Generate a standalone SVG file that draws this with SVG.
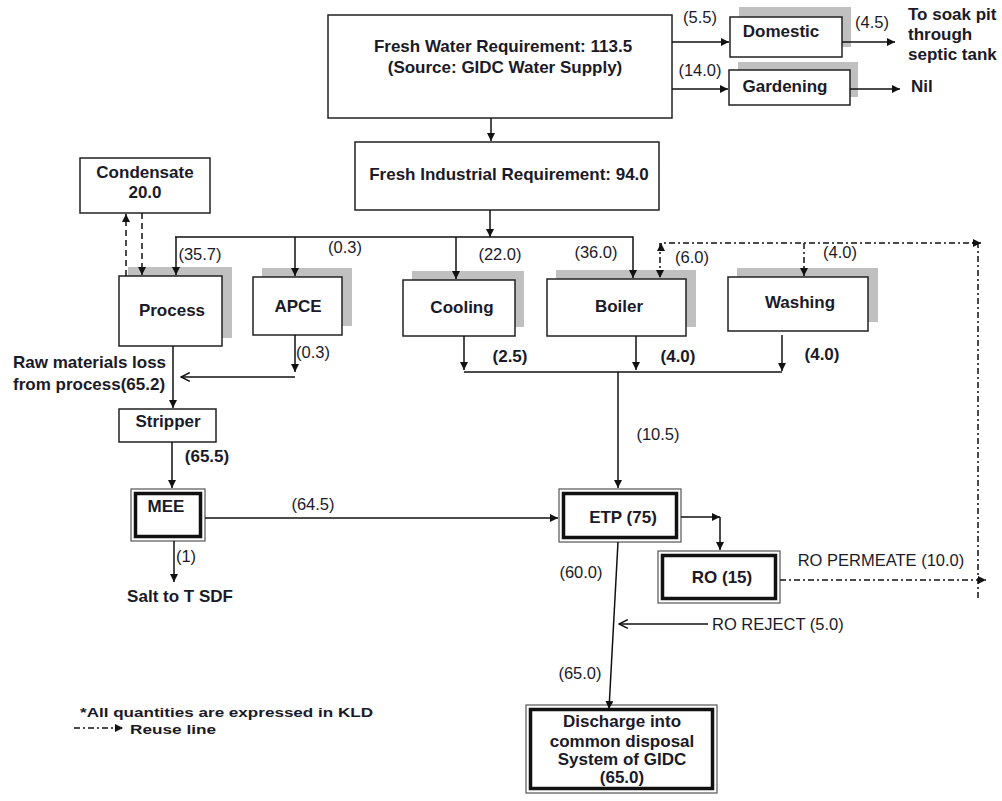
<svg xmlns="http://www.w3.org/2000/svg" width="1002" height="801" viewBox="0 0 1002 801">
<style>
  .box{fill:#fff;stroke:#222;stroke-width:1.5}
  .sh{fill:#c0c0c0}
  .dbo{fill:#fff;stroke:#555;stroke-width:1.2}
  .dbi{fill:none;stroke:#111;stroke-width:3.5}
  .ln{fill:none;stroke:#111;stroke-width:1.5}
  .dash{stroke-dasharray:6,4}
  .reuse{stroke-dasharray:6,3,2,3}
  text{font-family:"Liberation Sans",Arial,sans-serif;font-size:17px;font-weight:bold;fill:#1a1a28}
  .q{font-weight:normal;font-size:16.5px}
  .m{text-anchor:middle}
  .lg{font-size:13.5px}
</style>
<defs>
  <marker id="arr" viewBox="0 0 10 10" refX="10" refY="5" markerWidth="8" markerHeight="8" markerUnits="userSpaceOnUse" orient="auto">
    <path d="M0,0 L10,5 L0,10 z" fill="#111"/>
  </marker>
  <marker id="open" viewBox="0 0 10 10" refX="9" refY="5" markerWidth="11" markerHeight="11" markerUnits="userSpaceOnUse" orient="auto">
    <path d="M1,1 L9,5 L1,9" fill="none" stroke="#111" stroke-width="1.4"/>
  </marker>
</defs>

<g id="fresh-water">
  <rect class="box" x="328" y="15" width="344" height="103"/>
  <text class="m" x="503" y="52">Fresh Water Requirement: 113.5</text>
  <text class="m" x="505" y="73">(Source: GIDC Water Supply)</text>
</g>
<g id="fresh-industrial">
  <rect class="box" x="355" y="142" width="304" height="68"/>
  <text class="m" x="509" y="180">Fresh Industrial Requirement: 94.0</text>
</g>
<g id="domestic">
  <rect class="sh" x="739" y="7" width="112" height="40"/>
  <rect class="box" x="730" y="17" width="112" height="40"/>
  <text class="m" x="781" y="37">Domestic</text>
</g>
<g id="gardening">
  <rect class="sh" x="738" y="62" width="120" height="35"/>
  <rect class="box" x="729" y="70" width="121" height="35"/>
  <text class="m" x="785" y="92">Gardening</text>
</g>
<g id="condensate">
  <rect class="box" x="80" y="158" width="130" height="55"/>
  <text class="m" x="145" y="178">Condensate</text>
  <text class="m" x="145" y="198">20.0</text>
</g>
<g id="process">
  <rect class="sh" x="128" y="267" width="104" height="71"/>
  <rect class="box" x="119" y="276" width="103" height="70"/>
  <text class="m" x="172" y="316">Process</text>
</g>
<g id="apce">
  <rect class="sh" x="262" y="268" width="90" height="58"/>
  <rect class="box" x="253" y="277" width="89" height="58"/>
  <text class="m" x="298" y="312">APCE</text>
</g>
<g id="cooling">
  <rect class="sh" x="412" y="271" width="112" height="56"/>
  <rect class="box" x="403" y="280" width="112" height="56"/>
  <text class="m" x="462" y="313">Cooling</text>
</g>
<g id="boiler">
  <rect class="sh" x="556" y="270" width="140" height="57"/>
  <rect class="box" x="547" y="279" width="139" height="57"/>
  <text class="m" x="619" y="312">Boiler</text>
</g>
<g id="washing">
  <rect class="sh" x="737" y="268" width="141" height="54"/>
  <rect class="box" x="728" y="277" width="140" height="54"/>
  <text class="m" x="800" y="308">Washing</text>
</g>
<g id="stripper">
  <rect class="box" x="119" y="409" width="97" height="33"/>
  <text class="m" x="168" y="427">Stripper</text>
</g>
<g id="mee">
  <rect class="dbo" x="131" y="489" width="74" height="52"/>
  <rect class="dbi" x="135.5" y="493.5" width="65" height="43"/>
  <text class="m" x="166" y="512">MEE</text>
</g>
<g id="etp">
  <rect class="dbo" x="559" y="489" width="122" height="53"/>
  <rect class="dbi" x="563.5" y="493.5" width="113" height="44"/>
  <text class="m" x="623" y="523">ETP (75)</text>
</g>
<g id="ro">
  <rect class="dbo" x="658" y="551" width="122" height="52"/>
  <rect class="dbi" x="662.5" y="555.5" width="113" height="43"/>
  <text class="m" x="722" y="583">RO (15)</text>
</g>
<g id="discharge">
  <rect class="dbo" x="526" y="705" width="191" height="88"/>
  <rect class="dbi" x="530.5" y="709.5" width="182" height="79"/>
  <text class="m" x="622" y="727">Discharge into</text>
  <text class="m" x="622" y="747">common disposal</text>
  <text class="m" x="622" y="765">System of GIDC</text>
  <text class="m" x="622" y="783">(65.0)</text>
</g>

<!-- connectors, drawn over the box shadows -->
<g id="connectors">
  <path class="ln" d="M491,118 V141" marker-end="url(#arr)"/>
  <path class="ln" d="M672,42 H729" marker-end="url(#arr)"/>
  <path class="ln" d="M842,42 H895" marker-end="url(#arr)"/>
  <path class="ln" d="M672,89 H728" marker-end="url(#arr)"/>
  <path class="ln" d="M850,89 H900" marker-end="url(#arr)"/>
  <path class="ln" d="M490,210 V237" marker-end="url(#arr)"/>
  <path class="ln" d="M175,237 H633 V278" marker-end="url(#arr)"/>
  <path class="ln" d="M176,237 V275" marker-end="url(#arr)"/>
  <path class="ln" d="M295,237 V276" marker-end="url(#arr)"/>
  <path class="ln" d="M456,237 V279" marker-end="url(#arr)"/>
  <path class="ln dash" d="M126,276 V214" marker-end="url(#arr)"/>
  <path class="ln dash" d="M142,213 V275" marker-end="url(#arr)"/>
  <path class="ln" d="M464,336 V370" marker-end="url(#arr)"/>
  <path class="ln" d="M636,336 V370" marker-end="url(#arr)"/>
  <path class="ln" d="M782,335 V371" marker-end="url(#arr)"/>
  <path class="ln" d="M464,372 H782"/>
  <path class="ln" d="M618,372 V488" marker-end="url(#arr)"/>
  <path class="ln" d="M295,335 V372" marker-end="url(#arr)"/>
  <path class="ln" d="M295,377 H181" marker-end="url(#open)"/>
  <path class="ln" d="M173,346 V408" marker-end="url(#arr)"/>
  <path class="ln" d="M172,442 V488" marker-end="url(#arr)"/>
  <path class="ln" d="M205,518 H558" marker-end="url(#arr)"/>
  <path class="ln" d="M174,541 V582" marker-end="url(#arr)"/>
  <path class="ln" d="M681,517 H720" marker-end="url(#arr)"/>
  <path class="ln" d="M720,517 V550" marker-end="url(#arr)"/>
  <path class="ln" d="M618,542 L609,709" marker-end="url(#arr)"/>
  <path class="ln" d="M708,624 H619" marker-end="url(#open)"/>
  <!-- reuse loop -->
  <path class="ln reuse" d="M780,580 H986" marker-end="url(#arr)"/>
  <path class="ln reuse" d="M978,598 V243 H661"/>
  <path class="ln" d="M972,243 H981" marker-end="url(#arr)"/>
  <path class="ln" d="M661,251 V243" marker-end="url(#arr)"/>
  <path class="ln reuse" d="M660,243 V278" marker-end="url(#arr)"/>
  <path class="ln reuse" d="M804,243 V276" marker-end="url(#arr)"/>
  <!-- legend line -->
  <path class="ln reuse" d="M74,728 H123" marker-end="url(#arr)"/>
</g>

<!-- end points and flow labels -->
<g id="labels">
  <text x="908" y="20">To soak pit</text>
  <text x="908" y="40">through</text>
  <text x="908" y="60">septic tank</text>
  <text x="911" y="92">Nil</text>
  <text x="13" y="368">Raw materials loss</text>
  <text x="13" y="390">from process(65.2)</text>
  <text class="m" x="180" y="602">Salt to T SDF</text>

  <text class="q m" x="700" y="23">(5.5)</text>
  <text class="q m" x="872" y="28">(4.5)</text>
  <text class="q m" x="700" y="76">(14.0)</text>
  <text class="q m" x="200" y="260">(35.7)</text>
  <text class="q m" x="345" y="253">(0.3)</text>
  <text class="q m" x="500" y="260">(22.0)</text>
  <text class="q m" x="596" y="258">(36.0)</text>
  <text class="q m" x="692" y="263">(6.0)</text>
  <text class="q m" x="840" y="258">(4.0)</text>
  <text class="m" x="510" y="362">(2.5)</text>
  <text class="m" x="678" y="362">(4.0)</text>
  <text class="m" x="822" y="360">(4.0)</text>
  <text class="q m" x="313" y="358">(0.3)</text>
  <text class="q m" x="658" y="440">(10.5)</text>
  <text class="m" x="207" y="462">(65.5)</text>
  <text class="q m" x="313" y="510">(64.5)</text>
  <text class="q m" x="186" y="562">(1)</text>
  <text class="q m" x="881" y="566">RO PERMEATE (10.0)</text>
  <text class="q m" x="581" y="578">(60.0)</text>
  <text class="q" x="712" y="630">RO REJECT (5.0)</text>
  <text class="q m" x="580" y="679">(65.0)</text>
</g>

<g id="legend">
  <text class="lg" x="80" y="717" textLength="293" lengthAdjust="spacingAndGlyphs">*All quantities are expressed in KLD</text>
  <text class="lg" x="130" y="734" textLength="86" lengthAdjust="spacingAndGlyphs">Reuse line</text>
</g>
</svg>
